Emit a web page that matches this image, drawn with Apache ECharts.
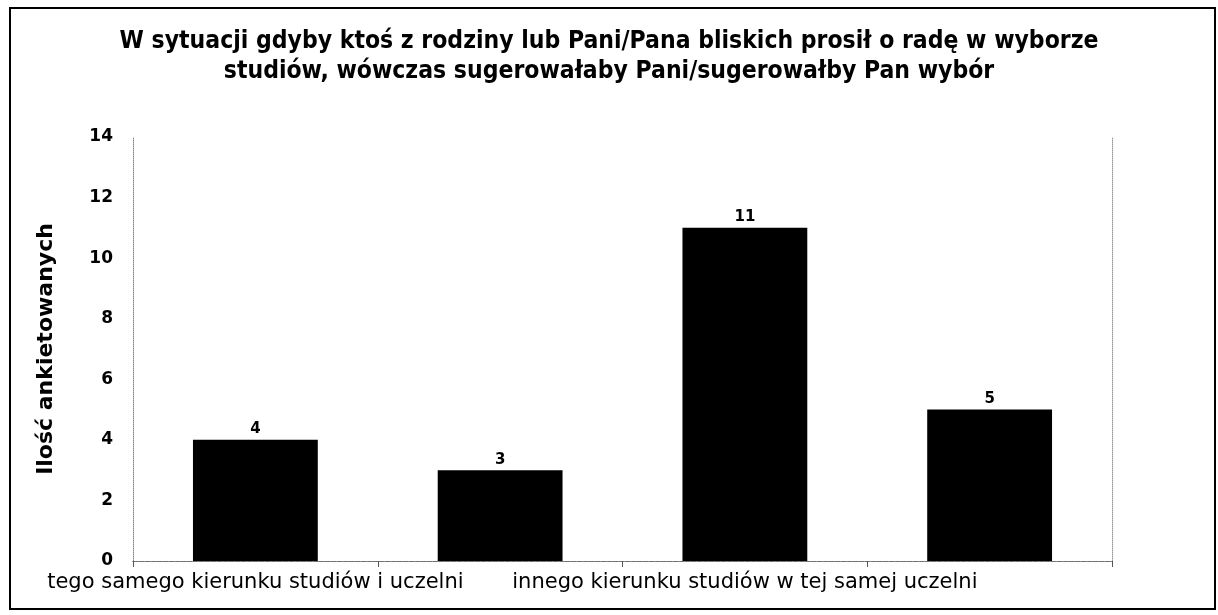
<!DOCTYPE html>
<html>
<head>
<meta charset="utf-8">
<script src="https://cdn.jsdelivr.net/npm/echarts@6/dist/echarts.min.js"></script>
<style>
  html, body { margin: 0; padding: 0; background: #fff; }
  #chart { width: 1218px; height: 615px; }
</style>
</head>
<body>
<div id="chart"></div>
<script>
// dane z wykresu
const categories = [
  'tego samego kierunku studiów i uczelni',
  'tego samego kierunku studiów na innej uczelni',
  'innego kierunku studiów w tej samej uczelni',
  'innego kierunku studiów na innej uczelni'
]
const values = [4, 3, 11, 5]
const yTicks = [0, 2, 4, 6, 8, 10, 12, 14]

const titleText = 'W sytuacji gdyby ktoś z rodziny lub Pani/Pana bliskich prosił o radę w wyborze\nstudiów, wówczas sugerowałaby Pani/sugerowałby Pan wybór'

const chart = echarts.init(document.getElementById('chart'))
chart.setOption({
  animation: false,
  backgroundColor: '#fff',
  title: {
    text: titleText,
    left: 'center',
    top: 22,
    textStyle: {
      fontFamily: "'Liberation Sans Narrow', 'DejaVu Sans Condensed', sans-serif",
      fontWeight: 'bold',
      fontSize: 24.5,
      lineHeight: 30,
      color: '#000'
    }
  },
  // ramka wokół całego wykresu
  graphic: [
    {
      type: 'rect',
      shape: { x: 10, y: 8, width: 1205, height: 601 },
      style: { fill: null, stroke: '#000', lineWidth: 2 },
      silent: true
    }
  ],
  grid: {
    left: 133,
    right: 106,
    top: 137,
    bottom: 54
  },
  xAxis: [
    {
      type: 'category',
      data: categories,
      axisLine: { show: true, lineStyle: { color: '#555', type: 'dashed', width: 1 } },
      axisTick: { show: true, length: 6, interval: 0, lineStyle: { color: '#555' } },
      axisLabel: {
        interval: 1,
        margin: 11,
        color: '#000',
        fontFamily: "'DejaVu Sans', sans-serif",
        fontSize: 21
      }
    },
    {
      type: 'category',
      data: categories,
      position: 'top',
      axisLine: { show: true, lineStyle: { color: '#777', type: 'dotted', width: 1 } },
      axisTick: { show: false },
      axisLabel: { show: false }
    }
  ],
  yAxis: [
    {
      type: 'value',
      min: yTicks[0],
      max: yTicks[yTicks.length - 1],
      interval: 2,
      name: 'Ilość ankietowanych',
      nameLocation: 'middle',
      nameGap: 76,
      nameTextStyle: {
        fontFamily: "'DejaVu Sans', sans-serif",
        fontWeight: 'bold',
        fontSize: 22,
        color: '#000'
      },
      axisLine: { show: true, lineStyle: { color: '#888', type: 'dotted', width: 1 } },
      axisTick: { show: false },
      splitLine: { show: false },
      axisLabel: {
        margin: 20,
        color: '#000',
        fontFamily: "'DejaVu Sans', sans-serif",
        fontWeight: 'bold',
        fontSize: 17
      }
    },
    {
      type: 'value',
      position: 'right',
      min: yTicks[0],
      max: yTicks[yTicks.length - 1],
      interval: 2,
      axisLine: { show: true, lineStyle: { color: '#999', type: 'dotted', width: 1 } },
      axisTick: { show: false },
      splitLine: { show: false },
      axisLabel: { show: false }
    }
  ],
  series: [
    {
      type: 'bar',
      data: values,
      barWidth: '51%',
      itemStyle: { color: '#000' },
      label: {
        show: true,
        position: 'top',
        distance: 3,
        color: '#000',
        fontFamily: "'DejaVu Sans', sans-serif",
        fontWeight: 'bold',
        fontSize: 15
      }
    }
  ]
})
</script>
</body>
</html>
